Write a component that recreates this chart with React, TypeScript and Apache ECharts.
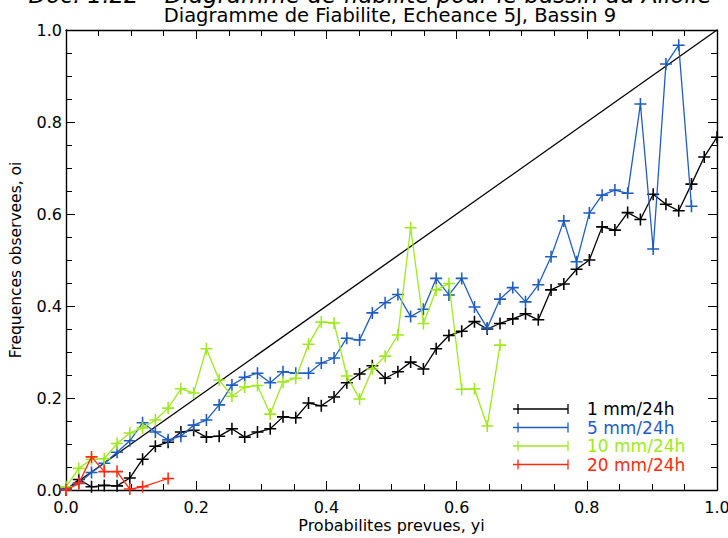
import React, { useEffect, useRef } from "react";
import * as echarts from "echarts";

// Probability bins: ensemble of 51 members -> k/51
const nMembers = 51;
const seriesNames = ["1 mm/24h", "5 mm/24h", "10 mm/24h", "20 mm/24h"];
const seriesColors = ["#000000", "#1f5cc0", "#9ee81e", "#ff2a10"];

const black1mm = [
  0.0, 0.023, 0.007, 0.01, 0.009, 0.026, 0.067, 0.095, 0.104, 0.126, 0.13, 0.115, 0.117, 0.133,
  0.115, 0.126, 0.133, 0.159, 0.157, 0.189, 0.183, 0.202, 0.233, 0.252, 0.27, 0.243, 0.257, 0.278,
  0.263, 0.307, 0.336, 0.345, 0.366, 0.35, 0.362, 0.372, 0.383, 0.37, 0.435, 0.448, 0.48, 0.5,
  0.572, 0.565, 0.603, 0.588, 0.643, 0.621, 0.607, 0.665, 0.724, 0.767,
];
const blue5mm = [
  0.004, 0.015, 0.038, 0.058, 0.082, 0.107, 0.146, 0.126, 0.109, 0.117, 0.141, 0.152, 0.185, 0.228,
  0.245, 0.254, 0.233, 0.257, 0.254, 0.254, 0.276, 0.287, 0.33, 0.326, 0.385, 0.407, 0.425, 0.377,
  0.393, 0.46, 0.424, 0.46, 0.398, 0.352, 0.415, 0.44, 0.409, 0.446, 0.507, 0.585, 0.496, 0.602,
  0.641, 0.652, 0.645, 0.839, 0.524, 0.926, 0.967, 0.617,
];
const green10mm = [
  0.007, 0.047, 0.067, 0.068, 0.101, 0.124, 0.135, 0.152, 0.178, 0.22, 0.211, 0.307, 0.239, 0.204,
  0.224, 0.227, 0.165, 0.235, 0.243, 0.317, 0.365, 0.363, 0.248, 0.198, 0.263, 0.291, 0.337, 0.57,
  0.362, 0.435, 0.449, 0.219, 0.22, 0.139, 0.315,
];
const red20mm = [0.0, 0.014, 0.072, 0.04, 0.04, 0.002, 0.007, null, 0.025];

const allSeries = [black1mm, blue5mm, green10mm, red20mm];

const xTickLabels = ["0.0", "0.2", "0.4", "0.6", "0.8", "1.0"];
const titleLine1 = "Doc. 1.22 \u2013 Diagramme de fiabilite pour le bassin du Aliolle";
const titleLine2 = "Diagramme de Fiabilite, Echeance 5J, Bassin 9";
const xName = "Probabilites prevues, yi";
const yName = "Frequences observees, oi";

const FONT = "DejaVu Sans";
const PLUS = "path://M4.35,0h1.3v4.35h4.35v1.3h-4.35v4.35h-1.3v-4.35h-4.35v-1.3h4.35z";

export default function App() {
  const ref = useRef<HTMLDivElement>(null);
  useEffect(() => {
    if (!ref.current) return;
    const chart = echarts.init(ref.current, undefined, { renderer: "svg" });

    const axisCommon = {
      type: "value" as const,
      min: 0,
      max: 1,
      interval: 0.2,
      axisLine: { show: true, onZero: false, lineStyle: { color: "#000", width: 1.4 } },
      axisTick: { show: true, inside: true, length: 9, lineStyle: { color: "#000", width: 1 } },
      minorTick: { show: true, splitNumber: 4, length: 6, lineStyle: { color: "#000", width: 1 } },
      splitLine: { show: false },
    };
    const labelStyle = {
      color: "#000",
      fontFamily: FONT,
      fontSize: 16,
      formatter: (v: number) => xTickLabels[Math.round(v * 5)] ?? v.toFixed(1),
    };

    const series: any[] = [
      {
        type: "line",
        data: [
          [0, 0],
          [1, 1],
        ],
        symbol: "none",
        lineStyle: { color: "#000", width: 1.3 },
        silent: true,
        z: 1,
      },
    ];
    allSeries.forEach((vals, si) => {
      series.push({
        type: "line",
        name: seriesNames[si],
        data: vals.map((v, i) => [i / nMembers, v]),
        connectNulls: true,
        symbol: PLUS,
        symbolSize: 12,
        showSymbol: true,
        lineStyle: { color: seriesColors[si], width: 1.3 },
        itemStyle: { color: seriesColors[si] },
        z: 2 + si,
      });
    });

    const legendGraphics: any[] = [];
    const rowY = [409, 427.5, 446, 464.5];
    seriesNames.forEach((name, si) => {
      const y = rowY[si];
      const c = seriesColors[si];
      legendGraphics.push(
        { type: "line", shape: { x1: 513, y1: y, x2: 568, y2: y }, style: { stroke: c, lineWidth: 1.3 } },
        { type: "line", shape: { x1: 518, y1: y - 5, x2: 518, y2: y + 5 }, style: { stroke: c, lineWidth: 1.3 } },
        { type: "line", shape: { x1: 568, y1: y - 5, x2: 568, y2: y + 5 }, style: { stroke: c, lineWidth: 1.3 } },
        {
          type: "text",
          x: 587,
          y: y,
          style: { text: name, fill: c, font: `17px '${FONT}'`, verticalAlign: "middle", align: "left" },
        }
      );
    });

    chart.setOption({
      animation: false,
      backgroundColor: "#fff",
      grid: { left: 66, right: 11, top: 30, bottom: 48, outerBoundsMode: "none", containLabel: false },
      xAxis: [
        {
          ...axisCommon,
          position: "bottom",
          axisLabel: { ...labelStyle, margin: 9 },
          name: xName,
          nameLocation: "middle",
          nameGap: 27.5,
          nameMoveOverlap: false,
          nameTextStyle: { color: "#000", fontFamily: FONT, fontSize: 16 },
        },
        { ...axisCommon, position: "top", axisLabel: { show: false } },
      ],
      yAxis: [
        {
          ...axisCommon,
          position: "left",
          axisLabel: { ...labelStyle, margin: 4 },
          name: yName,
          nameLocation: "middle",
          nameGap: 42,
          nameMoveOverlap: false,
          nameTextStyle: { color: "#000", fontFamily: FONT, fontSize: 15.5 },
        },
        { ...axisCommon, position: "right", axisLabel: { show: false } },
      ],
      series,
      graphic: [
        {
          type: "text",
          x: 370,
          y: 6,
          style: {
            text: titleLine1,
            fill: "#000",
            font: `italic 23px '${FONT}'`,
            align: "center",
            verticalAlign: "bottom",
          },
        },
        {
          type: "text",
          x: 390,
          y: 15,
          style: { text: titleLine2, fill: "#000", font: `19.5px '${FONT}'`, align: "center", verticalAlign: "middle" },
        },
        ...legendGraphics,
      ],
    });
    return () => chart.dispose();
  }, []);
  return <div ref={ref} style={{ position: "fixed", left: 0, top: 0, width: 728, height: 538 }} />;
}
